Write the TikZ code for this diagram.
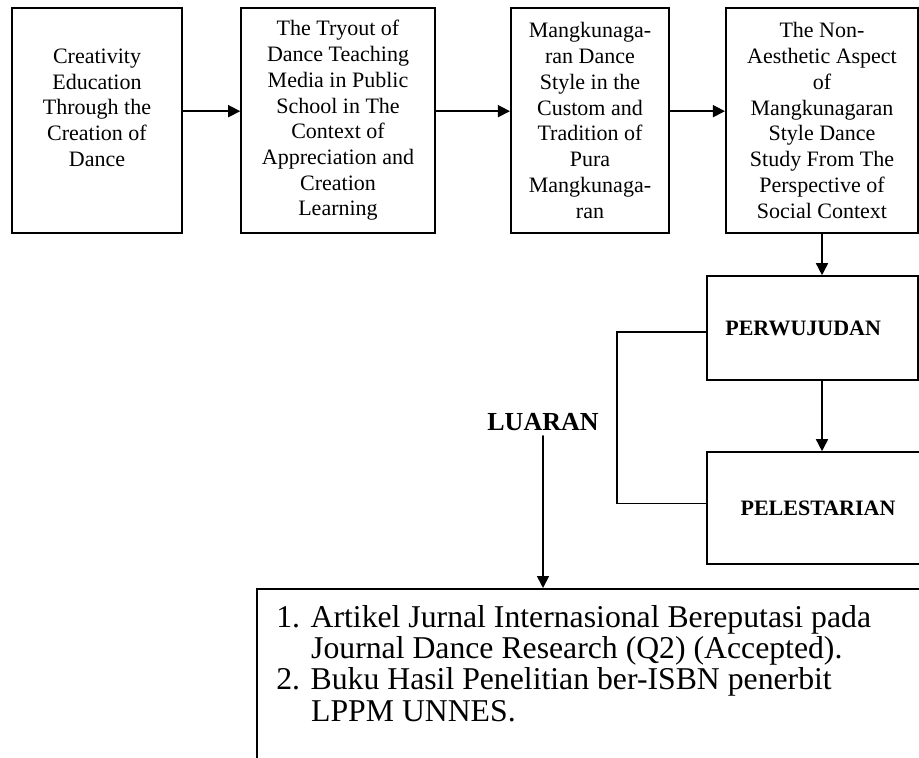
\documentclass[tikz,border=0pt]{standalone}
\usepackage{fontspec}
\setmainfont{Liberation Serif}
\usepackage{tikz}
\usetikzlibrary{arrows.meta}

\begin{document}
\begin{tikzpicture}[line cap=round,>={Triangle[length=9pt,width=9pt]},x=0.75pt,y=-0.75pt,
  topbox/.style={draw,line width=1.2pt,align=center,minimum height=168.75pt,font=\fontsize{16.5}{19.3}\selectfont},
  sidebox/.style={draw,line width=1.2pt,font=\fontsize{16.5}{19.3}\selectfont\bfseries},
  conn/.style={->,line width=1.2pt}]
\useasboundingbox (0,0) rectangle (919,757);
\clip (0,0) rectangle (919,757);

\node[topbox,minimum width=127.5pt] (crea) at (97,120.5) {Creativity\\Education\\Through the\\Creation of\\Dance\\\mbox{}};
\node[topbox,minimum width=145.5pt] (tryout) at (338,120.5) {The Tryout of\\Dance Teaching\\Media in Public\\School in The\\Context of\\Appreciation and\\Creation\\Learning};
\node[topbox,minimum width=118.9pt] (mangku) at (590,120.5) {Mangkunaga-\\ran Dance\\Style in the\\Custom and\\Tradition of\\Pura\\Mangkunaga-\\ran};
\node[topbox,minimum width=144.4pt] (nonaes) at (822,120.5) {The Non-\\Aesthetic Aspect\\of\\Mangkunagaran\\Style Dance\\Study From The\\Perspective of\\Social Context};

\draw[conn] ([yshift=7pt]crea.east) -- ([yshift=7pt]tryout.west);
\draw[conn] ([yshift=7pt]tryout.east) -- ([yshift=7pt]mangku.west);
\draw[conn] ([yshift=7pt]mangku.east) -- ([yshift=7pt]nonaes.west);

\node[sidebox,minimum width=158.25pt,minimum height=78pt] (perw) at (812.5,328) {PERWUJUDAN\hspace*{14pt}};
\node[sidebox,minimum width=166.5pt,minimum height=84pt] (pelest) at (818,508) {PELESTARIAN};
\draw[conn] (nonaes.south) -- (nonaes.south |- perw.north);
\draw[conn] (nonaes.south |- perw.south) -- (nonaes.south |- pelest.north);
\draw[line width=1.2pt] ([yshift=-3pt]perw.west) -- ++(-89,0) |- ([yshift=3.5pt]pelest.west);

\node[font=\fontsize{19.5}{23}\selectfont\bfseries] (luaran) at (543,422.5) {LUARAN};
\node[draw,line width=1.6pt,minimum width=513pt,minimum height=144pt,anchor=north west] (outbox) at (256,588) {};
\node[anchor=north west,inner sep=0pt,align=left,font=\fontsize{23.8}{23.5}\selectfont] (outtxt) at (276,605) {1. Artikel Jurnal Internasional Bereputasi pada\\\hspace*{1.1em}Journal Dance Research (Q2) (Accepted).\\2. Buku Hasil Penelitian ber-ISBN penerbit\\\hspace*{1.1em}LPPM UNNES.};
\draw[conn] (luaran.south) -- (luaran.south |- outbox.north);
\end{tikzpicture}
\end{document}
